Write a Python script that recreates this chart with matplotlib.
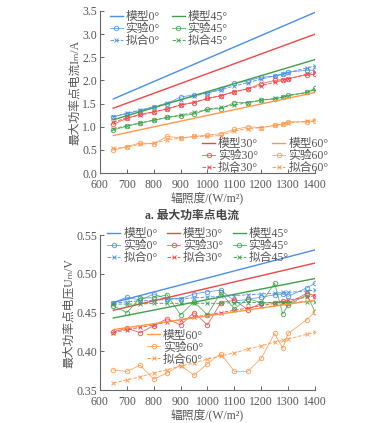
import matplotlib
matplotlib.use("Agg")
import matplotlib.pyplot as plt
from matplotlib.ticker import MultipleLocator, FormatStrFormatter

plt.rcParams["font.family"] = ["Liberation Serif", "Noto Sans CJK SC", "DejaVu Sans"]

# irradiance (W/m2)
x_model = [650, 1400]
x_data = [650, 700, 750, 800, 850, 900, 950, 1000, 1050, 1100,
          1150, 1200, 1250, 1280, 1300, 1370, 1400]
angles = ["0°", "30°", "45°", "60°"]

# --- current at maximum power point (A) ---
i_model_0 = [1.60, 3.47]
i_model_30 = [1.40, 3.00]
i_model_45 = [1.15, 2.45]
i_model_60 = [0.81, 1.74]

i_exp_0 = [1.22, 1.28, 1.35, 1.42, 1.50, 1.64, 1.69, 1.73, 1.81, 1.94,
           1.99, 2.07, 2.09, 2.13, 2.18, 2.22, 2.22]
i_exp_30 = [1.05, 1.18, 1.27, 1.32, 1.38, 1.47, 1.52, 1.61, 1.67, 1.76,
            1.82, 1.93, 2.00, 2.02, 2.04, 2.12, 2.13]
i_exp_45 = [0.93, 1.01, 1.08, 1.14, 1.20, 1.24, 1.27, 1.38, 1.39, 1.52,
            1.52, 1.58, 1.60, 1.64, 1.68, 1.74, 1.83]
i_exp_60 = [0.49, 0.57, 0.65, 0.63, 0.79, 0.76, 0.79, 0.82, 0.85, 0.94,
            1.00, 0.98, 1.03, 1.06, 1.11, 1.10, 1.12]

i_fit_0 = [1.21, 1.29, 1.36, 1.43, 1.51, 1.58, 1.66, 1.73, 1.80, 1.88,
           1.95, 2.03, 2.10, 2.14, 2.17, 2.27, 2.31]
i_fit_30 = [1.10, 1.19, 1.25, 1.32, 1.39, 1.47, 1.53, 1.61, 1.67, 1.75,
            1.82, 1.89, 1.96, 2.00, 2.03, 2.14, 2.18]
i_fit_45 = [0.96, 1.02, 1.08, 1.14, 1.20, 1.25, 1.31, 1.37, 1.42, 1.47,
            1.52, 1.57, 1.61, 1.64, 1.67, 1.74, 1.80]
i_fit_60 = [0.53, 0.56, 0.62, 0.64, 0.72, 0.75, 0.79, 0.79, 0.81, 0.91,
            0.96, 0.98, 1.03, 1.05, 1.08, 1.12, 1.15]

# --- voltage at maximum power point (V) ---
u_model_0 = [0.463, 0.531]
u_model_30 = [0.453, 0.514]
u_model_45 = [0.443, 0.494]
u_model_60 = [0.428, 0.466]

u_exp_0 = [0.463, 0.470, 0.466, 0.474, 0.468, 0.468, 0.474, 0.477, 0.479, 0.465,
           0.467, 0.470, 0.473, 0.474, 0.471, 0.482, 0.488]
u_exp_30 = [0.425, 0.430, 0.424, 0.433, 0.442, 0.434, 0.450, 0.434, 0.463, 0.466,
            0.454, 0.462, 0.463, 0.465, 0.462, 0.475, 0.472]
u_exp_45 = [0.459, 0.450, 0.469, 0.469, 0.473, 0.447, 0.464, 0.447, 0.476, 0.455,
            0.468, 0.463, 0.488, 0.448, 0.460, 0.473, 0.451]
u_exp_60 = [0.376, 0.374, 0.382, 0.364, 0.372, 0.382, 0.369, 0.384, 0.397, 0.374,
            0.374, 0.391, 0.423, 0.404, 0.423, 0.441, 0.451]

u_fit_0 = [0.462, 0.464, 0.465, 0.466, 0.467, 0.468, 0.469, 0.470, 0.471, 0.472,
           0.473, 0.474, 0.475, 0.476, 0.476, 0.478, 0.479]
u_fit_30 = [0.424, 0.428, 0.431, 0.434, 0.438, 0.441, 0.444, 0.447, 0.450, 0.453,
            0.456, 0.459, 0.462, 0.464, 0.466, 0.470, 0.472]
u_fit_45 = [0.461, 0.461, 0.461, 0.462, 0.462, 0.462, 0.462, 0.462, 0.462, 0.463,
            0.463, 0.463, 0.463, 0.463, 0.463, 0.464, 0.464]
u_fit_60 = [0.359, 0.363, 0.367, 0.372, 0.376, 0.381, 0.385, 0.390, 0.394, 0.398,
            0.403, 0.407, 0.412, 0.414, 0.416, 0.422, 0.425]

colors = ["#4a8ee6", "#f04545", "#3fa04a", "#ff9848"]
text_c = "#555555"


def draw_series(ax, model, exp, fit, color, ang):
    h1, = ax.plot(x_model, model, "-", color=color, lw=1.0, label="模型" + ang)
    h2, = ax.plot(x_data, exp, "-", color=color, lw=0.6, alpha=0.85,
                  marker="o", ms=3.2, mfc="none", mew=0.7, label="实验" + ang)
    h3, = ax.plot(x_data, fit, "--", color=color, lw=0.7, alpha=0.9,
                  marker="x", ms=3.0, mew=0.7, label="拟合" + ang)
    return [h1, h2, h3]


def style_axes(ax):
    for s in ["top", "right"]:
        ax.spines[s].set_visible(False)
    for s in ["left", "bottom"]:
        ax.spines[s].set_color("#666666")
        ax.spines[s].set_linewidth(0.8)
    ax.tick_params(direction="in", length=3, width=0.7, colors="#666666",
                   labelsize=8.5, labelcolor=text_c, pad=2)
    ax.tick_params(axis="x", pad=4)
    ax.set_xlim(600, 1400)
    ax.xaxis.set_major_locator(MultipleLocator(100))
    ax.set_xlabel("辐照度/(W/m²)", fontsize=8.5, color=text_c, labelpad=1)


def add_legend(ax, handles, ncol, anchor, colsp):
    leg = ax.legend(handles=handles, ncol=ncol, loc="upper left",
                    bbox_to_anchor=anchor, frameon=False, fontsize=8.5,
                    handlelength=1.1, handletextpad=0.25, labelspacing=0.0,
                    columnspacing=colsp, borderpad=0, borderaxespad=0)
    for t in leg.get_texts():
        t.set_color(text_c)
    return leg


def main():
    fig = plt.figure(figsize=(3.87, 4.23), dpi=100)

    # top: current
    ax1 = fig.add_axes([0.258, 0.591, 0.556, 0.383])
    hs = [draw_series(ax1, m, e, f, c, a) for m, e, f, c, a in zip(
        [i_model_0, i_model_30, i_model_45, i_model_60],
        [i_exp_0, i_exp_30, i_exp_45, i_exp_60],
        [i_fit_0, i_fit_30, i_fit_45, i_fit_60], colors, angles)]
    style_axes(ax1)
    ax1.set_ylim(0, 3.5)
    ax1.yaxis.set_major_locator(MultipleLocator(0.5))
    ax1.yaxis.set_major_formatter(FormatStrFormatter("%.1f"))
    ax1.set_ylabel("最大功率点电流Iₘ/A", fontsize=8.5, color=text_c, labelpad=1)
    leg = add_legend(ax1, hs[0] + hs[2], 2, (0.045, 1.0), 1.0)
    ax1.add_artist(leg)
    add_legend(ax1, hs[1] + hs[3], 2, (0.475, 0.215), 1.2)

    fig.text(0.495, 0.49, "a. 最大功率点电流", ha="center", va="center",
             fontsize=8.5, color="#444444", fontweight="bold")

    # bottom: voltage
    ax2 = fig.add_axes([0.258, 0.078, 0.556, 0.366])
    hs = [draw_series(ax2, m, e, f, c, a) for m, e, f, c, a in zip(
        [u_model_0, u_model_30, u_model_45, u_model_60],
        [u_exp_0, u_exp_30, u_exp_45, u_exp_60],
        [u_fit_0, u_fit_30, u_fit_45, u_fit_60], colors, angles)]
    style_axes(ax2)
    ax2.set_ylim(0.35, 0.55)
    ax2.yaxis.set_major_locator(MultipleLocator(0.05))
    ax2.yaxis.set_major_formatter(FormatStrFormatter("%.2f"))
    ax2.set_ylabel("最大功率点电压Uₘ/V", fontsize=8.5, color=text_c, labelpad=1)
    leg = add_legend(ax2, hs[0] + hs[1] + hs[2], 3, (0.035, 1.045), 0.8)
    ax2.add_artist(leg)
    add_legend(ax2, hs[3], 1, (0.22, 0.39), 0.8)

    fig.savefig("out.png", dpi=100)


if __name__ == "__main__":
    main()
